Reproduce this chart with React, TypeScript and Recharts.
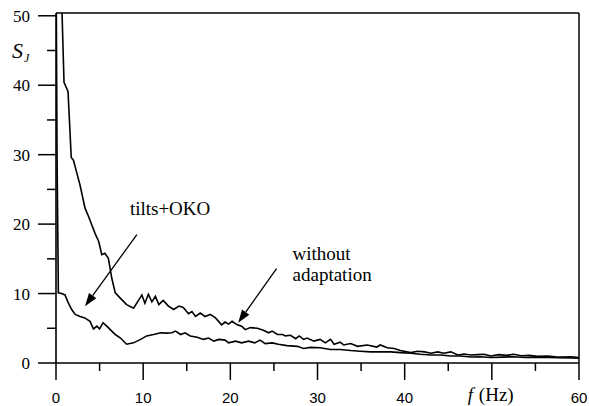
import React from 'react';
import { LineChart, Line, XAxis, YAxis, ReferenceLine, Text } from 'recharts';

// "without adaptation" curve
const freqA = [0, 0.69, 0.92, 1.38, 1.75, 2.0, 2.4, 2.76, 3.33, 3.7, 4.1, 4.5, 4.9, 5.25, 5.6, 6.0, 6.4, 6.8, 7.4, 8.1, 8.9, 9.5, 9.85, 10.2, 10.6, 11.0, 11.4, 11.8, 12.3, 12.9, 13.5, 14.1, 14.6, 15.2, 15.6, 16.0, 16.55, 17.1, 17.7, 18.3, 19.0, 19.4, 19.8, 20.2, 20.8, 21.3, 21.7, 22.3, 23.1, 23.8, 24.4, 24.8, 25.4, 26.0, 26.3, 26.9, 27.5, 27.9, 28.4, 28.8, 29.6, 30.3, 30.9, 31.5, 31.9, 32.6, 33.0, 33.8, 34.6, 35.7, 36.8, 37.2, 38.0, 38.8, 39.5, 40.7, 41.5, 42.3, 43.0, 43.8, 44.5, 45.3, 46.1, 46.8, 47.6, 48.4, 49.1, 49.9, 50.8, 51.7, 52.5, 53.4, 54.3, 55.2, 56.4, 57.3, 58.2, 59.1, 60];
const valA = [58, 50.5, 40.4, 39.1, 29.6, 29.2, 27.3, 25.6, 22.3, 21.2, 19.9, 18.6, 17.5, 15.6, 15.8, 15.1, 12.2, 10.1, 9.3, 8.4, 7.9, 9.1, 9.8, 8.6, 9.9, 8.8, 9.6, 8.4, 9.0, 8.2, 7.7, 8.2, 8.0, 7.1, 7.4, 6.7, 7.2, 6.7, 7.0, 6.5, 5.5, 5.9, 5.6, 6.0, 5.5, 5.3, 4.8, 5.1, 5.0, 4.7, 4.35, 4.6, 4.1, 4.1, 3.9, 4.0, 3.5, 3.9, 3.4, 3.6, 3.15, 3.4, 2.9, 3.4, 2.7, 3.0, 2.6, 2.8, 2.4, 2.6, 2.3, 2.6, 2.2, 2.1, 1.8, 1.5, 1.7, 1.6, 1.4, 1.6, 1.4, 1.6, 1.15, 1.3, 1.15, 1.2, 1.25, 1.0, 1.2, 1.1, 1.25, 1.05, 1.1, 0.95, 1.0, 0.9, 0.85, 0.9, 0.8];

// "tilts+OKO" curve
const freqB = [0, 0.12, 0.27, 0.65, 1.03, 1.4, 1.8, 2.2, 2.76, 3.3, 3.9, 4.3, 4.7, 5.0, 5.4, 6.0, 6.8, 7.4, 8.1, 8.9, 9.7, 10.4, 11.2, 12.0, 12.7, 13.3, 13.7, 14.3, 14.8, 15.4, 16.2, 16.9, 17.5, 18.1, 18.7, 19.4, 19.8, 20.6, 21.3, 22.1, 22.8, 23.4, 24.0, 24.8, 25.5, 26.5, 27.7, 28.4, 29.2, 30.3, 31.5, 32.6, 33.8, 34.9, 36.1, 37.2, 38.4, 39.5, 40.7, 41.8, 43.0, 44.1, 45.3, 46.4, 47.6, 48.7, 49.9, 51.2, 52.5, 53.8, 55.1, 56.4, 57.7, 59.0, 60];
const valB = [60, 30, 10.1, 10.0, 9.8, 8.7, 7.7, 7.0, 6.7, 6.5, 6.0, 4.9, 5.3, 4.9, 5.8, 5.1, 4.1, 3.6, 2.7, 2.9, 3.4, 3.9, 4.1, 4.35, 4.3, 4.35, 4.6, 4.1, 4.35, 3.9, 3.7, 3.4, 3.6, 3.15, 3.4, 3.3, 2.9, 3.15, 2.9, 3.15, 2.9, 3.3, 2.8, 2.9, 2.7, 2.5, 2.4, 2.1, 2.25, 2.2, 1.95, 1.95, 1.8, 1.7, 1.6, 1.6, 1.6, 1.5, 1.4, 1.25, 1.15, 1.15, 1.0, 1.0, 0.86, 0.9, 0.8, 0.85, 0.9, 0.8, 0.85, 0.8, 0.75, 0.72, 0.7];

const xTicks = [0, 5, 10, 15, 20, 25, 30, 35, 40, 45, 50, 55, 60];
const yTicks = [0, 5, 10, 15, 20, 25, 30, 35, 40, 45, 50];
const xTitleTick = 50;
const yTitleTick = 45;

const notes = [
  { lines: ['tilts+OKO'], tail: { x: 9.28, y: 18.5 }, tip: { x: 3.33, y: 8.17 }, tx: -7, ty: -20 },
  { lines: ['without', 'adaptation'], tail: { x: 25.3, y: 13.6 }, tip: { x: 20.9, y: 5.8 }, tx: 16, ty: -9 },
];

const dataA = freqA.map((f, i) => ({ f, s: valA[i] }));
const dataB = freqB.map((f, i) => ({ f, s: valB[i] }));

const SERIF = 'Times New Roman';
const SANS = 'Liberation Sans';

const XTick = (props: any) => {
  const { x, y, payload } = props;
  const v = payload.value;
  const major = v % 10 === 0;
  return (
    <g>
      <line x1={x} x2={x} y1={y} y2={y + (major ? 17 : 8)} stroke="#000" strokeWidth={1.5} />
      {major && v !== xTitleTick && (
        <Text x={x} y={y + 40} textAnchor="middle" fontFamily={SANS} fontSize={15} fill="#000">{String(v)}</Text>
      )}
      {v === xTitleTick && (
        <g>
          <Text x={x - 24} y={y + 38} fontFamily={SERIF} fontSize={19} fontStyle="italic" fill="#000">f</Text>
          <Text x={x - 13} y={y + 38} fontFamily={SERIF} fontSize={19} fill="#000">(Hz)</Text>
        </g>
      )}
    </g>
  );
};

const YTick = (props: any) => {
  const { x, y, payload } = props;
  const v = payload.value;
  const major = v % 10 === 0;
  return (
    <g>
      <line x1={x - (major ? 18 : 9)} x2={x} y1={y} y2={y} stroke="#000" strokeWidth={1.5} />
      {major && (
        <Text x={x - 26} y={y + 6} textAnchor="end" fontFamily={SERIF} fontSize={17} fill="#000">{String(v)}</Text>
      )}
      {v === yTitleTick && (
        <g>
          <Text x={x - 44} y={y + 7} fontFamily={SERIF} fontSize={22} fontStyle="italic" fill="#000">S</Text>
          <Text x={x - 32} y={y + 11} fontFamily={SERIF} fontSize={12} fontStyle="italic" fill="#000">J</Text>
        </g>
      )}
    </g>
  );
};

const makeArrow = (note: any) => (props: any) => {
  const { x1, y1, x2, y2 } = props;
  if (x1 == null || x2 == null) return <g />;
  const dx = x2 - x1;
  const dy = y2 - y1;
  const len = Math.hypot(dx, dy) || 1;
  const ux = dx / len;
  const uy = dy / len;
  const hl = 13;
  const hw = 4.5;
  const bx = x2 - ux * hl;
  const by = y2 - uy * hl;
  const pts = `${x2},${y2} ${bx - uy * hw},${by + ux * hw} ${bx + uy * hw},${by - ux * hw}`;
  return (
    <g>
      <line x1={x1} y1={y1} x2={bx} y2={by} stroke="#000" strokeWidth={1.3} />
      <polygon points={pts} fill="#000" />
      {note.lines.map((l: string, i: number) => (
        <Text key={i} x={x1 + note.tx} y={y1 + note.ty + i * 21} fontFamily={SERIF} fontSize={19} fill="#000">{l}</Text>
      ))}
    </g>
  );
};

export default function App() {
  return (
    <div style={{ position: 'absolute', left: 0, top: 0, background: '#fff', fontFamily: '"Times New Roman", serif' }}>
      <LineChart width={589} height={406} margin={{ top: 13, right: 10, left: 0, bottom: 0 }} style={{ fontFamily: '"Times New Roman", serif' }}>
        <XAxis
          type="number"
          dataKey="f"
          domain={[0, 60]}
          ticks={xTicks}
          interval={0}
          height={43}
          tickSize={0}
          tickMargin={0}
          tickLine={false}
          axisLine={{ stroke: '#000', strokeWidth: 1.6 }}
          tick={<XTick />}
          allowDataOverflow
        />
        <YAxis
          type="number"
          dataKey="s"
          domain={[0, 50.4]}
          ticks={yTicks}
          interval={0}
          width={56}
          tickSize={0}
          tickMargin={0}
          tickLine={false}
          axisLine={{ stroke: '#000', strokeWidth: 1.6 }}
          tick={<YTick />}
          allowDataOverflow
        />
        <ReferenceLine y={50.4} stroke="#000" strokeWidth={1.5} />
        <ReferenceLine x={60} stroke="#000" strokeWidth={1.5} />
        <Line data={dataA} dataKey="s" type="linear" stroke="#000" strokeWidth={1.6} dot={false} isAnimationActive={false} />
        <Line data={dataB} dataKey="s" type="linear" stroke="#000" strokeWidth={1.6} dot={false} isAnimationActive={false} />
        {notes.map((n, i) => (
          <ReferenceLine
            key={i}
            segment={[n.tail, n.tip]}
            ifOverflow="visible"
            shape={makeArrow(n)}
          />
        ))}
      </LineChart>
    </div>
  );
}
